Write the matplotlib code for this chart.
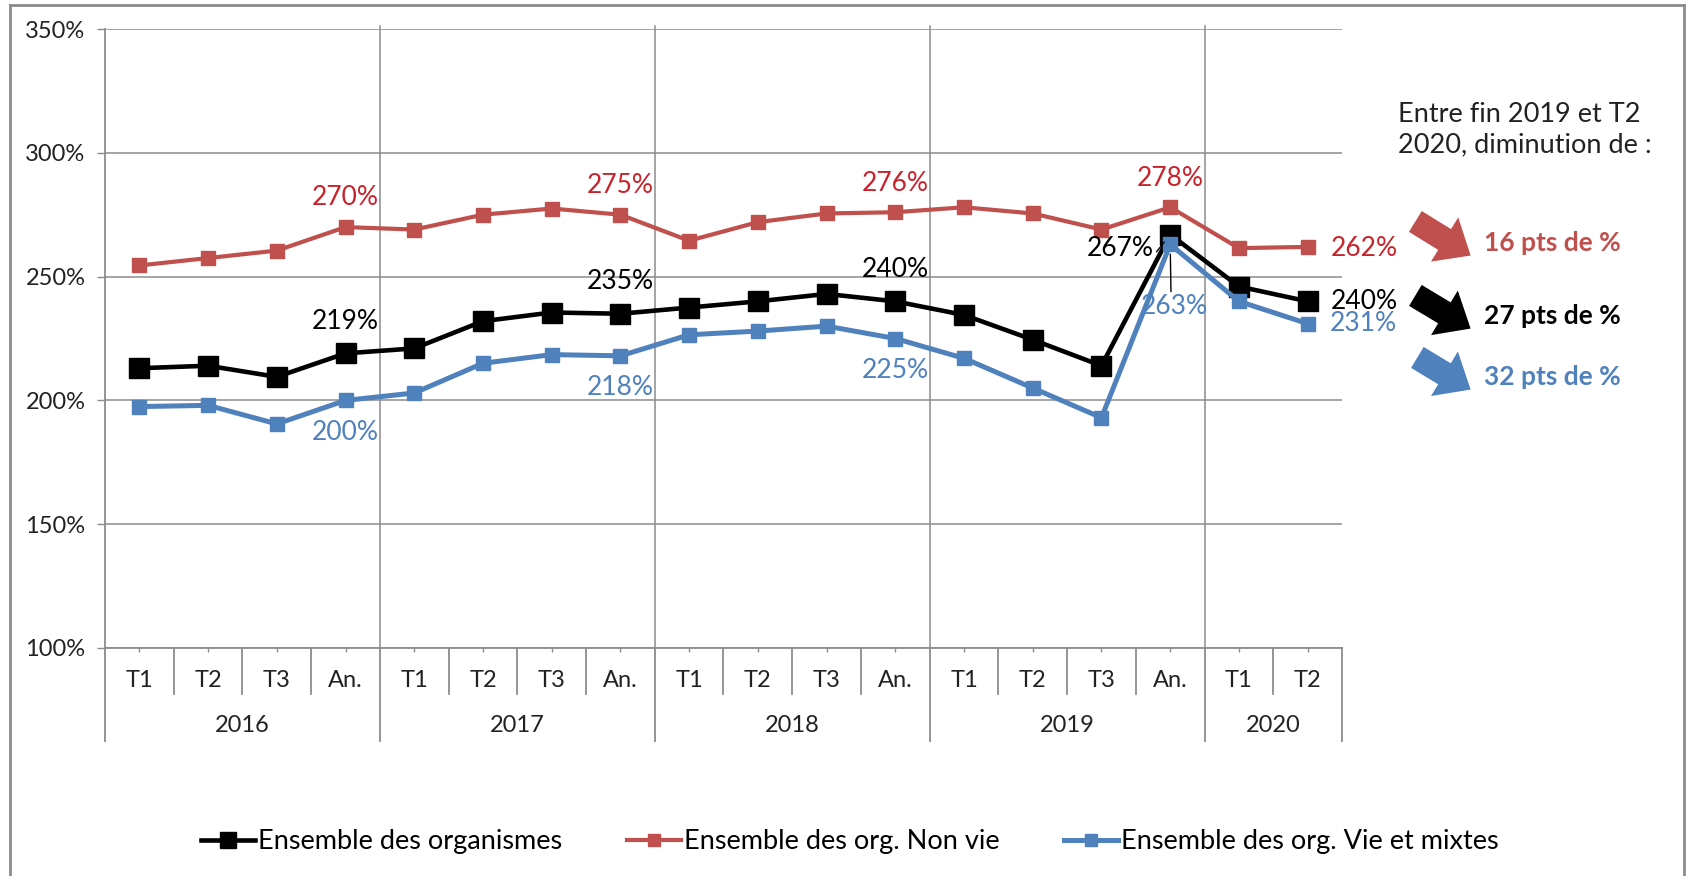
import matplotlib as mpl
mpl.use("agg")
import matplotlib.pyplot as plt
from matplotlib.lines import Line2D
import matplotlib.transforms as mtransforms

plt.rcParams['font.family'] = ['Lato', 'DejaVu Sans']

# data
years = ["2016", "2017", "2018", "2019", "2020"]
quarters = ["T1", "T2", "T3", "An.", "T1", "T2", "T3", "An.", "T1", "T2", "T3", "An.",
            "T1", "T2", "T3", "An.", "T1", "T2"]
year_sizes = [4, 4, 4, 4, 2]

ensemble = [213, 214, 209.5, 219, 221, 232, 235.5, 235, 237.5, 240, 243, 240,
            234.5, 224.5, 214, 267, 246, 240]
non_vie = [254.5, 257.5, 260.5, 270, 269, 275, 277.5, 275, 264.5, 272, 275.5, 276,
           278, 275.5, 269, 278, 261.5, 262]
vie_mixtes = [197.5, 198, 190.5, 200, 203, 215, 218.5, 218, 226.5, 228, 230, 225,
              217, 205, 193, 263, 240, 231]

names = ["Ensemble des organismes", "Ensemble des org. Non vie", "Ensemble des org. Vie et mixtes"]
drops = ["27 pts de %", "16 pts de %", "32 pts de %"]
note = "Entre fin 2019 et T2\n2020, diminution de :"

BLACK = "#000000"
RED = "#C0504D"
BLUE = "#4F81BD"
RED_TXT = "#C8232C"
GRID = "#8C8C8C"
TXT = "#222222"
FS = 19

fig = plt.figure(figsize=(16.86, 8.76), dpi=100)
ax = fig.add_axes([105/1686, 1-648/876, (1342-105)/1686, (648-29)/876])

x = list(range(len(quarters)))
ax.plot(x, ensemble, color=BLACK, lw=3.3, marker="s", ms=14, zorder=3)
ax.plot(x, non_vie, color=RED, lw=3.0, marker="s", ms=9.5, zorder=3)
ax.plot(x, vie_mixtes, color=BLUE, lw=3.6, marker="s", ms=9.5, zorder=4)

ax.set_xlim(-0.5, len(quarters)-0.5)
ax.set_ylim(100, 350)
ax.set_yticks([100, 150, 200, 250, 300, 350])
ax.set_yticklabels(["%d%%" % v for v in [100, 150, 200, 250, 300, 350]], fontsize=17, color=TXT)
ax.tick_params(axis="y", length=6, width=1, color=GRID, pad=8)
ax.set_xticks(x)
ax.set_xticklabels([])
ax.tick_params(axis="x", length=3, width=1, color=GRID)
ax.grid(axis="y", color=GRID, lw=1.1)
for s in ["top", "right"]:
    ax.spines[s].set_visible(False)
for s in ["left", "bottom"]:
    ax.spines[s].set_color(GRID)
    ax.spines[s].set_linewidth(1.3)

# category axis: quarters, then years
trans = mtransforms.blended_transform_factory(ax.transData, ax.transAxes)
for i, q in enumerate(quarters):
    ax.text(i, -0.052, q, transform=trans, ha="center", va="center", fontsize=17, color=TXT)
start = 0
for yr, n in zip(years, year_sizes):
    ax.text(start + (n-1)/2, -0.126, yr, transform=trans, ha="center", va="center",
            fontsize=17, color=TXT)
    start += n
bounds = [0]
for n in year_sizes:
    bounds.append(bounds[-1] + n)
for b in range(len(quarters)+1):
    xb = b - 0.5
    if b in bounds:
        ax.plot([xb, xb], [0, -0.150], transform=trans, color=GRID, lw=1.3, clip_on=False)
        if 0 < b < len(quarters):
            ax.plot([xb, xb], [0, 1.005], transform=trans, color=GRID, lw=1.1, clip_on=False, zorder=1)
    else:
        ax.plot([xb, xb], [0, -0.074], transform=trans, color=GRID, lw=1.3, clip_on=False)

# data labels
def lab(i, vals, txt, dx, dy, color, ha="center"):
    ax.annotate(txt, (i, vals[i]), xytext=(dx, dy), textcoords="offset points",
                ha=ha, va="center", fontsize=FS, color=color, zorder=5)

for i in [3, 7, 11]:
    lab(i, non_vie, "%d%%" % round(non_vie[i]), 0, 21, RED_TXT)
    lab(i, ensemble, "%d%%" % round(ensemble[i]), 0, 23, BLACK)
    lab(i, vie_mixtes, "%d%%" % round(vie_mixtes[i]), 0, -23, BLUE)
lab(15, non_vie, "278%", 0, 21, RED_TXT)
ax.annotate("267%", (15, ensemble[15]), xytext=(-36, -10), textcoords="offset points",
            ha="center", va="center", fontsize=FS, color=BLACK, zorder=5,
            arrowprops=dict(arrowstyle="-", color=BLACK, lw=1, shrinkA=0, shrinkB=7,
                            relpos=(0.95, 0.05)))
ax.annotate("263%", (15, vie_mixtes[15]), xytext=(3, -45), textcoords="offset points",
            ha="center", va="center", fontsize=FS, color=BLUE, zorder=5,
            arrowprops=dict(arrowstyle="-", color=BLACK, lw=1, shrinkA=0, shrinkB=7,
                            relpos=(0.45, 1.0)))
lab(17, non_vie, "262%", 17, -1, RED_TXT, ha="left")
lab(17, ensemble, "240%", 17, 0, BLACK, ha="left")
lab(17, vie_mixtes, "231%", 16, 0, BLUE, ha="left")

# right-hand note with block arrows
fig.text(1398/1686, 1-130/876, note, ha="left", va="center", fontsize=19.5,
         color=TXT, linespacing=1.25)
arrows = [((1413, 582), (1473, 546), BLACK), ((1413, 656), (1473, 619), RED),
          ((1415, 520), (1473, 485), BLUE)]
for (tail, head, c), d in zip(arrows, drops):
    fig.add_artist(mpl.patches.FancyArrowPatch(tail, head, transform=None,
                   arrowstyle="simple,head_length=1.0,head_width=1.7,tail_width=0.8",
                   mutation_scale=22, color=c, lw=0))
    fig.text(1484/1686, (head[1]+14)/876, d, ha="left", va="center", fontsize=FS,
             fontweight="bold", color=c)

# legend
handles = [Line2D([], [], color=BLACK, lw=3.3, marker="s", ms=12),
           Line2D([], [], color=RED, lw=3.0, marker="s", ms=9),
           Line2D([], [], color=BLUE, lw=3.6, marker="s", ms=9)]
fig.legend(handles, names, loc="center", bbox_to_anchor=(0.504, 1-842/876), ncol=3,
           frameon=False, fontsize=19.5, handlelength=2.0, handletextpad=0.1, columnspacing=2.4)

# chart area border
for xs, ys in [([10, 10], [0, 871]), ([10, 1684], [871, 871]), ([1684, 1684], [871, 0])]:
    fig.add_artist(Line2D([v/1686 for v in xs], [v/876 for v in ys], color="#8C8C8C", lw=2))

fig.savefig("out.png", dpi=100, facecolor="white")
